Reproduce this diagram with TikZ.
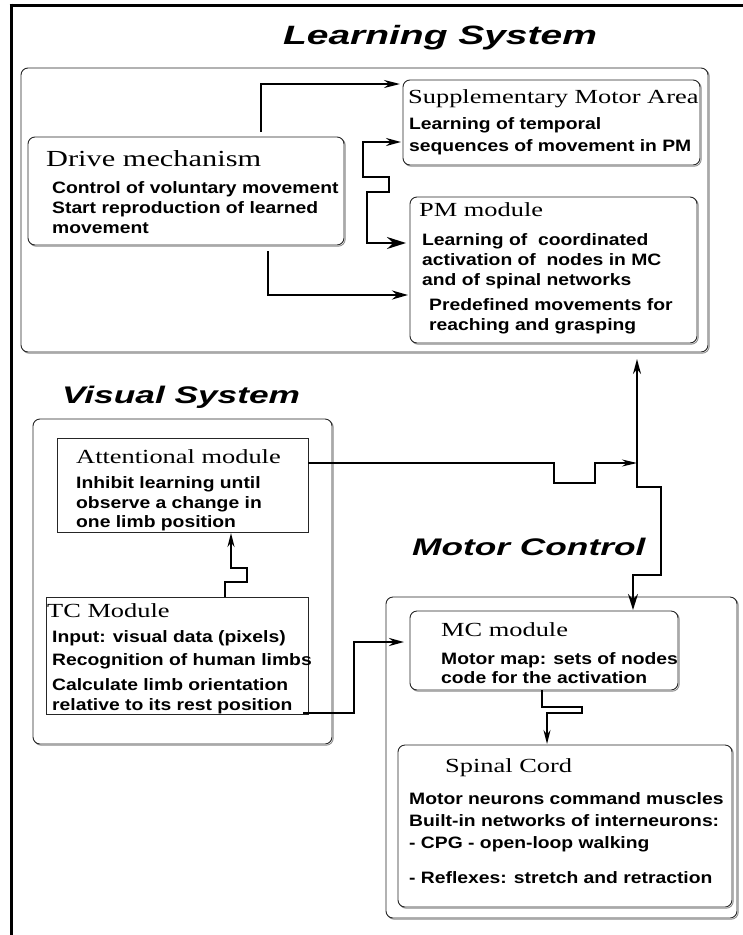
\documentclass[tikz,border=0pt]{standalone}
\usepackage{fontspec}
\setmainfont{Liberation Serif}
\newfontfamily\hdfont{Liberation Serif}[FakeStretch=1.32]
\newfontfamily\bodyfont{Liberation Sans Bold}[FakeStretch=1.17]
\newfontfamily\ttlfont{Liberation Sans Bold Italic}[FakeStretch=1.47]
\usetikzlibrary{arrows.meta,calc,shadows}

\begin{document}
\begin{tikzpicture}[x=1pt,y=-1pt,
  rbox/.style={draw=black!85, line width=0.9pt, rounded corners=7pt, fill=white,
    inner sep=0pt, outer sep=0pt, anchor=north west,
    copy shadow={shadow xshift=1.2pt, shadow yshift=-1.2pt, draw=black!45, fill=white}},
  sbox/.style={draw=black!85, line width=0.9pt, fill=white,
    inner sep=0pt, outer sep=0pt, anchor=north west},
  hd/.style={anchor=base west, inner sep=0pt, font=\hdfont\fontsize{20}{22}\selectfont},
  bt/.style={anchor=base west, inner sep=0pt, font=\bodyfont\fontsize{16.5}{18}\selectfont},
  ttl/.style={anchor=base west, inner sep=0pt, font=\ttlfont\fontsize{24}{26}\selectfont},
  conn/.style={line width=2pt, line join=miter},
]
% page and frame
\fill[white] (0,0) rectangle (743,935);
\useasboundingbox (0,0) rectangle (743,935);
\draw[line width=3pt] (9.5,5) -- (743,5);
\draw[line width=3pt] (11,3.5) -- (11,935);

% section titles
\node[ttl, anchor=base, font=\ttlfont\fontsize{26.5}{28}\selectfont] (ttllearn) at (440,44) {Learning System};
\node[ttl] (ttlvis) at (62,403) {Visual System};
\node[ttl] (ttlmot) at (412,555) {Motor Control};

% ---------- learning system ----------
\node[rbox, minimum width=687, minimum height=284] (learn) at (21,68) {};
\node[rbox, minimum width=297, minimum height=85] (sma) at (403,80) {};
\node[rbox, minimum width=316, minimum height=108] (drive) at (28,137) {};
\node[rbox, minimum width=287, minimum height=146] (pm) at (410,197) {};

\node[hd] (smah) at (408,103) {Supplementary Motor Area};
\node[bt] (smat1) at (409,129) {Learning of temporal};
\node[bt] (smat2) at (409,151) {sequences of movement in PM};

\node[hd, font=\hdfont\fontsize{23}{25}\selectfont] (driveh) at (46,166) {Drive mechanism};
\node[bt] (drivet1) at (52,193) {Control of voluntary movement};
\node[bt] (drivet2) at (52,213) {Start reproduction of learned};
\node[bt] (drivet3) at (52,233) {movement};

\node[hd] (pmh) at (419,216) {PM module};
\node[bt] (pmt1) at (422,245) {Learning of\ \ coordinated};
\node[bt] (pmt2) at (422,265) {activation of\ \ nodes in MC};
\node[bt] (pmt3) at (422,285) {and of spinal networks};
\node[bt] (pmt4) at (429,310) {Predefined movements for};
\node[bt] (pmt5) at (429,330) {reaching and grasping};

% ---------- visual system ----------
\node[rbox, minimum width=299, minimum height=325] (visual) at (33,419) {};
\node[sbox, minimum width=251, minimum height=94] (att) at (57,438) {};
\node[sbox, minimum width=262, minimum height=117] (tc) at (46,597) {};

\node[hd] (atth) at (76,463) {Attentional module};
\node[bt] (attt1) at (76,488) {Inhibit learning until};
\node[bt] (attt2) at (76,508) {observe a change in};
\node[bt] (attt3) at (76,527) {one limb position};

\node[hd] (tch) at (47,617) {TC Module};
\node[bt] (tct1) at (52,642) {Input: visual data (pixels)};
\node[bt] (tct2) at (52,665) {Recognition of human limbs};
\node[bt] (tct3) at (52,690) {Calculate limb orientation};
\node[bt] (tct4) at (52,710) {relative to its rest position};

% ---------- motor control ----------
\node[rbox, minimum width=351, minimum height=321] (motor) at (386,597) {};
\node[rbox, minimum width=268, minimum height=79] (mc) at (410,611) {};
\node[rbox, minimum width=334, minimum height=162] (spinal) at (398,745) {};

\node[hd] (mch) at (441,636) {MC module};
\node[bt] (mct1) at (441,664) {Motor map: sets of nodes};
\node[bt] (mct2) at (441,683) {code for the activation};

\node[hd] (spinalh) at (445,772) {Spinal Cord};
\node[bt] (spinalt1) at (409,804) {Motor neurons command muscles};
\node[bt] (spinalt2) at (409,826) {Built-in networks of interneurons:};
\node[bt] (spinalt3) at (409,848) {- CPG - open-loop walking};
\node[bt] (spinalt4) at (409,883) {- Reflexes: stretch and retraction};

% ---------- connectors ----------
% drive mechanism to supplementary motor area
\draw[conn, -{Stealth[length=16pt,width=8pt]}]
  ($(drive.north west)+(233,-5)$) |- ($(sma.north west)+(-3,4)$);
% supplementary motor area <-> PM module
\draw[conn, {Stealth[length=15pt,width=8pt]}-{Stealth[length=19pt,width=12pt]}]
  ($(sma.north west)+(-2,62)$) -- ++(-38,0) -- ++(0,35) -- ++(26,0) -- ++(0,15) -- ++(-22,0)
  |- ($(pm.north west)+(-4,46)$);
% drive mechanism to PM module
\draw[conn, line width=2.4pt, -{Stealth[length=16pt,width=9pt]}]
  ($(drive.south west)+(240,6)$) |- ($(pm.north west)+(-2,98)$);
% learning system <-> MC module
\draw[conn, {Stealth[length=15pt,width=8pt]}-{Stealth[length=16pt,width=10pt]}]
  ($(learn.south west)+(616,7)$) -- ++(0,128) -- ++(24,0) -- ++(0,88) -- ++(-28,0)
  -- ($(mc.north west)+(223,-1)$);
\coordinate (busjoin) at ($(learn.south west)+(616,111)$);
% attentional module into the learning/motor link
\draw[conn, line width=1.7pt, -{Stealth[length=15pt,width=7pt]}]
  ($(att.north east)+(0,25)$) -- ++(246,0) -- ++(0,20) -- ++(41,0) -- ++(0,-20) -- (busjoin);
% TC module to attentional module
\draw[conn, line width=1.8pt, -{Stealth[length=14pt,width=7pt]}]
  ($(tc.north west)+(179,0)$) -- ++(0,-15) -- ++(22,0) -- ++(0,-14) -- ++(-16,0)
  -- ($(att.south west)+(174,1)$);
% TC module to MC module
\draw[conn, line width=2.8pt, -{Stealth[length=15pt,width=8pt]}]
  ($(tc.south east)+(-5,-1)$) -- ++(51,0) |- ($(mc.north west)+(-6,31)$);
% MC module to spinal cord
\draw[conn, line width=1.7pt, -{Stealth[length=14pt,width=7pt]}]
  ($(mc.south west)+(132,0)$) -- ++(0,17) -- ++(40,0) -- ++(0,6) -- ++(-35,0)
  -- ($(spinal.north west)+(149,-1)$);
\end{tikzpicture}
\end{document}
